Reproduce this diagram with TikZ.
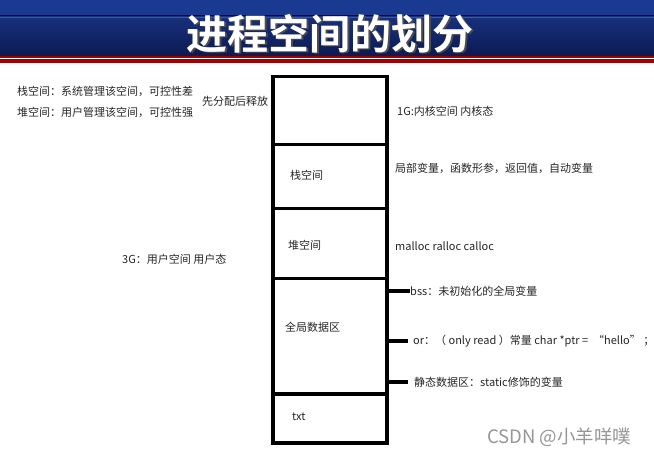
\documentclass[tikz,border=0pt]{standalone}
\usepackage{fontspec}
\setmainfont{Noto Sans CJK SC}
\newfontfamily\cjk{Noto Sans CJK SC}
\newfontfamily\cjkbold{Noto Sans CJK SC Bold}
\definecolor{hdrtop}{RGB}{26,58,146}
\definecolor{hdrmid}{RGB}{24,48,124}
\definecolor{hdrbot}{RGB}{12,26,82}
\definecolor{hdrred}{RGB}{160,0,0}
\definecolor{wmgray}{RGB}{150,150,150}
\tikzset{
  seg/.style={draw=black, line width=3.5pt, minimum width=114pt, inner sep=0pt, anchor=north west},
  lbl/.style={anchor=west, inner sep=0pt, font=\cjk\fontsize{11}{13}\selectfont, text=black!85},
  tick/.style={line width=3.5pt},
}
\begin{document}
\begin{tikzpicture}[x=1pt,y=-1pt]
\useasboundingbox (0,0) rectangle (654,457);
\fill[white] (0,0) rectangle (654,457);
% header
\fill[hdrtop] (0,0) rectangle (654,15);
\fill[black!60!hdrbot] (0,15) rectangle (654,16.5);
\shade[top color=hdrmid, bottom color=hdrbot] (0,16.5) rectangle (654,56);
\fill[hdrtop!85!white] (0,17) rectangle (654,18);
\fill[hdrred] (0,56) rectangle (654,58);
\fill[hdrred] (0,59.5) rectangle (654,63);
\node[text=black!70, font=\cjkbold\fontsize{41}{44}\selectfont, inner sep=0pt] at (331.5,35) {进程空间的划分};
\node (title) [text=white, font=\cjkbold\fontsize{41}{44}\selectfont, inner sep=0pt] at (330,34) {进程空间的划分};
% memory column
\node (kern) [seg, minimum height=68pt] at (271,75) {};
\node (stack) [seg, minimum height=64pt] at (271,143) {};
\node (heap) [seg, minimum height=70pt] at (271,207) {};
\node (data) [seg, minimum height=115pt] at (271,277) {};
\node (txtseg) [seg, minimum height=49pt] at (271,392) {};
% texts inside
\node (stacklbl) [lbl] at (290,175) {栈空间};
\node (heaplbl) [lbl] at (288,245) {堆空间};
\node (datalbl) [lbl] at (285,327) {全局数据区};
\node (txtlbl) [lbl] at (292,417) {txt};
% left notes
\node (n1) [lbl] at (17,91) {栈空间：系统管理该空间，可控性差};
\node (n2) [lbl] at (17,112) {堆空间：用户管理该空间，可控性强};
\node (n3) [lbl] at (202,101) {先分配后释放};
\node (n4) [lbl] at (122,259) {3G：用户空间 用户态};
% right notes
\node (r1) [lbl] at (397,111) {1G:内核空间 内核态};
\node (r2) [lbl] at (395,168) {局部变量，函数形参，返回值，自动变量};
\node (r3) [lbl] at (395,246) {malloc ralloc calloc};
\node (bss) [lbl] at (410,291) {bss：未初始化的全局变量};
\node (ro) [lbl] at (413,341) {or：（ only read ）常量 char *ptr = \ “hello” ；};
\node (st) [lbl] at (414,382) {静态数据区：static修饰的变量};
% connector ticks
\draw[tick] (data.east |- bss.west) -- (bss.west);
\draw[tick] (data.east |- ro.west) -- ([xshift=-5pt]ro.west);
\draw[tick] (data.east |- st.west) -- ([xshift=-6pt]st.west);
% watermark
\node (wm) [anchor=west, inner sep=0pt, text=wmgray, font=\cjk\fontsize{18.5}{20}\selectfont] at (487,437) {CSDN @小羊咩噗};
\end{tikzpicture}
\end{document}
